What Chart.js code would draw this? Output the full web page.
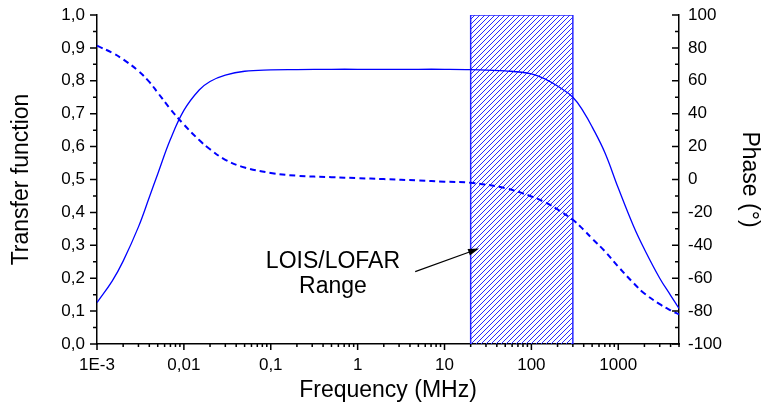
<!DOCTYPE html>
<html>
<head>
<meta charset="utf-8">
<script src="https://cdn.jsdelivr.net/npm/chart.js@4.4.1/dist/chart.umd.min.js"></script>
<style>
  html, body { margin: 0; padding: 0; background: #fff; }
  #wrap { width: 762px; height: 407px; }
</style>
</head>
<body>
<div id="wrap"><canvas id="grafico" width="762" height="407"></canvas></div>
<script>
// frequency samples in MHz
const frequencies = [0.001, 0.0015, 0.002, 0.003, 0.004, 0.005, 0.007, 0.01, 0.015, 0.02, 0.03, 0.05,
    0.1, 0.2, 0.5, 1, 2, 5, 10, 20, 50, 100, 150, 200, 300, 400, 500, 700, 1000, 1500, 2000, 3000, 4000, 5000];
// transfer function (left axis)
const transfer = [0.126, 0.192, 0.252, 0.356, 0.446, 0.517, 0.622, 0.710, 0.772, 0.798, 0.817, 0.829,
    0.833, 0.834, 0.835, 0.835, 0.835, 0.835, 0.835, 0.834, 0.830, 0.821, 0.803, 0.784, 0.750, 0.705,
    0.660, 0.582, 0.474, 0.358, 0.288, 0.200, 0.148, 0.108];
// phase in degrees (right axis)
const phase = [81.3, 77.0, 73.0, 66.0, 59.3, 52.8, 42.8, 33.4, 24.0, 18.4, 12.0, 7.3,
    4.0, 2.3, 1.4, 0.85, 0.25, -0.6, -1.3, -2.0, -5.3, -10.3, -14.4, -18.2, -24.5, -30.6,
    -35.9, -43.6, -53.0, -63.0, -69.3, -75.8, -79.5, -82.0];
// LOIS/LOFAR band (MHz)
const rangeBand = [20, 300];
const xTickValues = [0.001, 0.01, 0.1, 1, 10, 100, 1000];
const xTickLabels = ['1E-3', '0,01', '0,1', '1', '10', '100', '1000'];

const FONT = "'Liberation Sans', Arial, sans-serif";
const BLUE = '#0000ff';

function makeHatch() {
    const c = document.createElement('canvas');
    c.width = 5; c.height = 5;
    const g = c.getContext('2d');
    g.strokeStyle = 'rgb(40,40,255)';
    g.lineWidth = 1;
    g.beginPath();
    g.moveTo(-1, 6); g.lineTo(6, -1);
    g.moveTo(-1, 1); g.lineTo(1, -1);
    g.moveTo(4, 6); g.lineTo(6, 4);
    g.stroke();
    return g.createPattern(c, 'repeat');
}

const tickMarks = {
    id: 'tickMarks',
    afterDraw(chart) {
        const { ctx, chartArea, scales } = chart;
        ctx.save();
        ctx.strokeStyle = '#000';
        ctx.lineWidth = 1.5;
        ctx.beginPath();
        for (let i = 0; i <= 20; i++) {
            const y = scales.y.getPixelForValue(i / 20);
            ctx.moveTo(chartArea.left, y);
            ctx.lineTo(chartArea.left - (i % 2 === 0 ? 7 : 4), y);
        }
        for (let i = 0; i <= 20; i++) {
            const y = scales.y1.getPixelForValue(-100 + i * 10);
            ctx.moveTo(chartArea.right, y);
            ctx.lineTo(chartArea.right - (i % 2 === 0 ? 7 : 4), y);
        }
        for (let d = -3; d <= 3; d++) {
            for (let m = 1; m <= 9; m++) {
                const f = m * Math.pow(10, d);
                if (f > 5000) break;
                const x = scales.x.getPixelForValue(f);
                ctx.moveTo(x, chartArea.bottom);
                ctx.lineTo(x, chartArea.bottom + (m === 1 ? 6 : 3));
            }
        }
        ctx.stroke();
        ctx.restore();
    }
};

const annotation = {
    id: 'annotation',
    afterDatasetsDraw(chart) {
        const { ctx, scales } = chart;
        const xs = scales.x, ys = scales.y;
        ctx.save();
        ctx.fillStyle = '#000';
        ctx.font = '23px ' + FONT;
        ctx.textAlign = 'center';
        ctx.textBaseline = 'alphabetic';
        ctx.fillText('LOIS/LOFAR', xs.getPixelForValue(0.52), ys.getPixelForValue(0.232));
        ctx.fillText('Range', xs.getPixelForValue(0.52), ys.getPixelForValue(0.154));

        const x0 = xs.getPixelForValue(4.6), y0 = ys.getPixelForValue(0.22);
        const x1 = xs.getPixelForValue(25), y1 = ys.getPixelForValue(0.29);
        const a = Math.atan2(y1 - y0, x1 - x0);
        ctx.strokeStyle = '#000';
        ctx.lineWidth = 1.2;
        ctx.beginPath();
        ctx.moveTo(x0, y0);
        ctx.lineTo(x1 - 8 * Math.cos(a), y1 - 8 * Math.sin(a));
        ctx.stroke();
        ctx.beginPath();
        ctx.moveTo(x1, y1);
        ctx.lineTo(x1 - 11 * Math.cos(a) + 3.5 * Math.sin(a), y1 - 11 * Math.sin(a) - 3.5 * Math.cos(a));
        ctx.lineTo(x1 - 11 * Math.cos(a) - 3.5 * Math.sin(a), y1 - 11 * Math.sin(a) + 3.5 * Math.cos(a));
        ctx.closePath();
        ctx.fill();
        ctx.restore();
    }
};

const ctx = document.getElementById('grafico').getContext('2d');
new Chart(ctx, {
    type: 'line',
    data: {
        datasets: [
            {
                label: 'Transfer function',
                data: frequencies.map((f, i) => ({ x: f, y: transfer[i] })),
                yAxisID: 'y',
                borderColor: BLUE,
                borderWidth: 1.3,
                pointRadius: 0,
                fill: false,
                tension: 0.4,
                order: 1
            },
            {
                label: 'Phase',
                data: frequencies.map((f, i) => ({ x: f, y: phase[i] })),
                yAxisID: 'y1',
                borderColor: BLUE,
                borderWidth: 2,
                borderDash: [6, 4],
                pointRadius: 0,
                fill: false,
                tension: 0.4,
                order: 2
            },
            {
                label: 'LOIS/LOFAR Range',
                data: [
                    { x: rangeBand[0], y: 0 }, { x: rangeBand[0], y: 1 },
                    { x: rangeBand[1], y: 1 }, { x: rangeBand[1], y: 0 }
                ],
                yAxisID: 'y',
                borderColor: 'rgb(40,40,255)',
                borderWidth: 1.5,
                backgroundColor: makeHatch(),
                pointRadius: 0,
                tension: 0,
                fill: 'origin',
                order: 3
            }
        ]
    },
    options: {
        responsive: false,
        animation: false,
        layout: { padding: { top: 15, left: 0, right: 0, bottom: 0 } },
        plugins: {
            legend: { display: false },
            tooltip: { enabled: false }
        },
        scales: {
            x: {
                type: 'logarithmic',
                min: 0.001,
                max: 5000,
                afterBuildTicks: (scale) => {
                    scale.ticks = xTickValues.map(v => ({ value: v }));
                },
                afterFit: (scale) => {
                    scale.height = 63;
                    scale.paddingLeft = 0;
                    scale.paddingRight = 0;
                },
                grid: { display: false, drawTicks: false },
                border: { display: true, color: '#000', width: 1.5 },
                ticks: {
                    autoSkip: false,
                    maxRotation: 0,
                    padding: 11,
                    color: '#000',
                    font: { family: FONT, size: 17 },
                    callback: (value) => {
                        const i = xTickValues.indexOf(value);
                        return i >= 0 ? xTickLabels[i] : '';
                    }
                },
                title: {
                    display: true,
                    text: 'Frequency (MHz)',
                    color: '#000',
                    font: { family: FONT, size: 23, lineHeight: 1 },
                    padding: { top: 0, bottom: 5 }
                }
            },
            y: {
                position: 'left',
                min: 0,
                max: 1,
                afterFit: (scale) => {
                    scale.width = 97;
                    scale.paddingTop = 0;
                    scale.paddingBottom = 0;
                },
                grid: { display: false, drawTicks: false },
                border: { display: true, color: '#000', width: 1.5 },
                ticks: {
                    stepSize: 0.1,
                    padding: 12,
                    color: '#000',
                    font: { family: FONT, size: 17 },
                    callback: (v) => v.toFixed(1).replace('.', ',')
                },
                title: {
                    display: true,
                    text: 'Transfer function',
                    color: '#000',
                    font: { family: FONT, size: 23, lineHeight: 1 },
                    padding: { top: 10, bottom: 0 }
                }
            },
            y1: {
                position: 'right',
                min: -100,
                max: 100,
                afterFit: (scale) => {
                    scale.width = 83;
                    scale.paddingTop = 0;
                    scale.paddingBottom = 0;
                },
                grid: { display: false, drawTicks: false },
                border: { display: true, color: '#000', width: 1.5 },
                ticks: {
                    stepSize: 20,
                    padding: 9,
                    color: '#000',
                    font: { family: FONT, size: 17 }
                },
                title: {
                    display: true,
                    text: 'Phase (°)',
                    color: '#000',
                    font: { family: FONT, size: 23, lineHeight: 1 },
                    padding: { top: 1, bottom: 0 }
                }
            }
        }
    },
    plugins: [tickMarks, annotation]
});
</script>
</body>
</html>
